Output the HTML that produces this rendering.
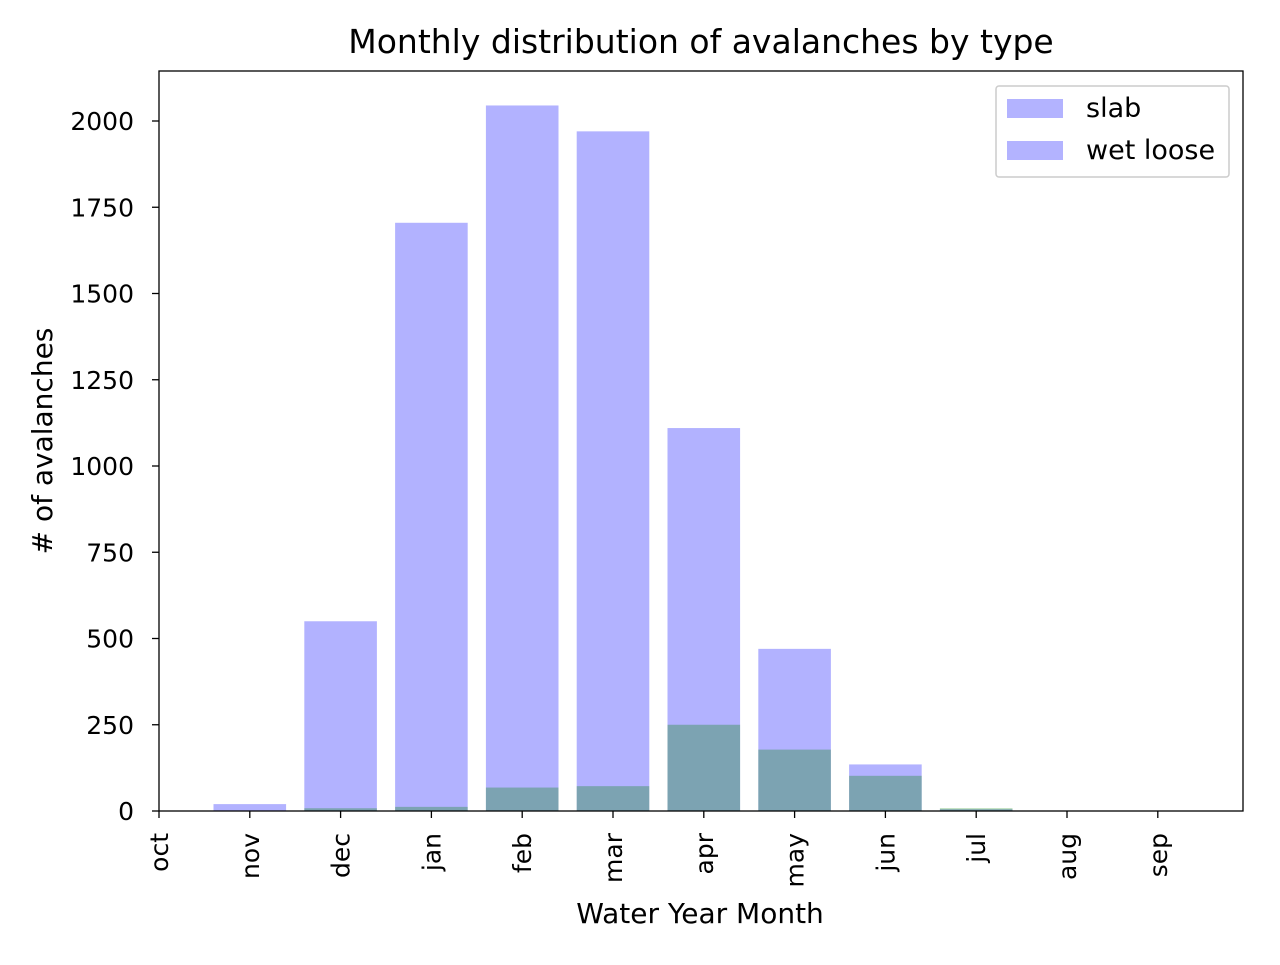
<!DOCTYPE html>
<html><head><meta charset="utf-8"><style>
body{margin:0;background:#fff;}
svg text{font-family:"DejaVu Sans","Liberation Sans",sans-serif;fill:#000;}
</style></head><body>
<svg id="chart" width="1280" height="960" xmlns="http://www.w3.org/2000/svg">
<text x="701" y="53" font-size="33" text-anchor="middle">Monthly distribution of avalanches by type</text>
<g id="bars"></g>
<g id="axes"></g>
<text x="700" y="923" font-size="28" text-anchor="middle">Water Year Month</text>
<text transform="translate(52,441) rotate(-90)" font-size="28" text-anchor="middle"># of avalanches</text>
<g>
<rect x="996" y="86" width="233" height="91" fill="#fff" stroke="#ccc" stroke-width="1.5" rx="3"/>
<g><rect x="1007" y="99" width="56" height="19" fill="#b3b3ff"/><text x="1086" y="117" font-size="27">slab</text></g>
<g><rect x="1007" y="141" width="56" height="19" fill="#b3b3ff"/><text x="1086" y="159" font-size="27">wet loose</text></g>
</g>
</svg>
<script>
const months=["oct","nov","dec","jan","feb","mar","apr","may","jun","jul","aug","sep"];
const slab=[0,20,550,1705,2045,1970,1110,470,135,5,0,0];
const wetLoose=[0,0,8,12,68,72,250,178,102,8,0,0];
const yTicks=[0,250,500,750,1000,1250,1500,1750,2000];
const NS="http://www.w3.org/2000/svg";
const L=159,R=1243,T=71,B=811;
const step=90.8;
const x=i=>L+i*step;
const y=v=>B-v*0.345;
function mk(tag,attrs,parent){const e=document.createElementNS(NS,tag);for(const k in attrs)e.setAttribute(k,attrs[k]);parent.appendChild(e);return e;}
const bars=document.getElementById('bars'),axes=document.getElementById('axes');
months.forEach((m,i)=>{
  if(slab[i]>0){const r=mk('rect',{x:x(i)-36.3,y:y(slab[i]),width:72.6,height:B-y(slab[i]),fill:'rgb(0,0,255)','fill-opacity':0.3},bars);
  
  }
  if(wetLoose[i]>0){const r=mk('rect',{x:x(i)-36.3,y:y(wetLoose[i]),width:72.6,height:B-y(wetLoose[i]),fill:'rgb(0,128,0)','fill-opacity':0.3},bars);
  
  }
});
const frame=mk('rect',{x:L,y:T,width:R-L,height:B-T,fill:'none',stroke:'#000','stroke-width':1.3},axes);


yTicks.forEach(v=>{
  mk('line',{x1:L-7,x2:L,y1:y(v),y2:y(v),stroke:'#000','stroke-width':1.3},axes);
  const t=mk('text',{x:L-25,y:y(v)+9,'font-size':25,'text-anchor':'end'},axes);t.textContent=v;
  
  
});
months.forEach((m,i)=>{
  mk('line',{x1:x(i),x2:x(i),y1:B,y2:B+7,stroke:'#000','stroke-width':1.3},axes);
  const t=mk('text',{transform:`translate(${x(i)+9},${B+22}) rotate(-90)`,'font-size':25,'text-anchor':'end'},axes);t.textContent=m;
  
  
});
</script>
</body></html>
